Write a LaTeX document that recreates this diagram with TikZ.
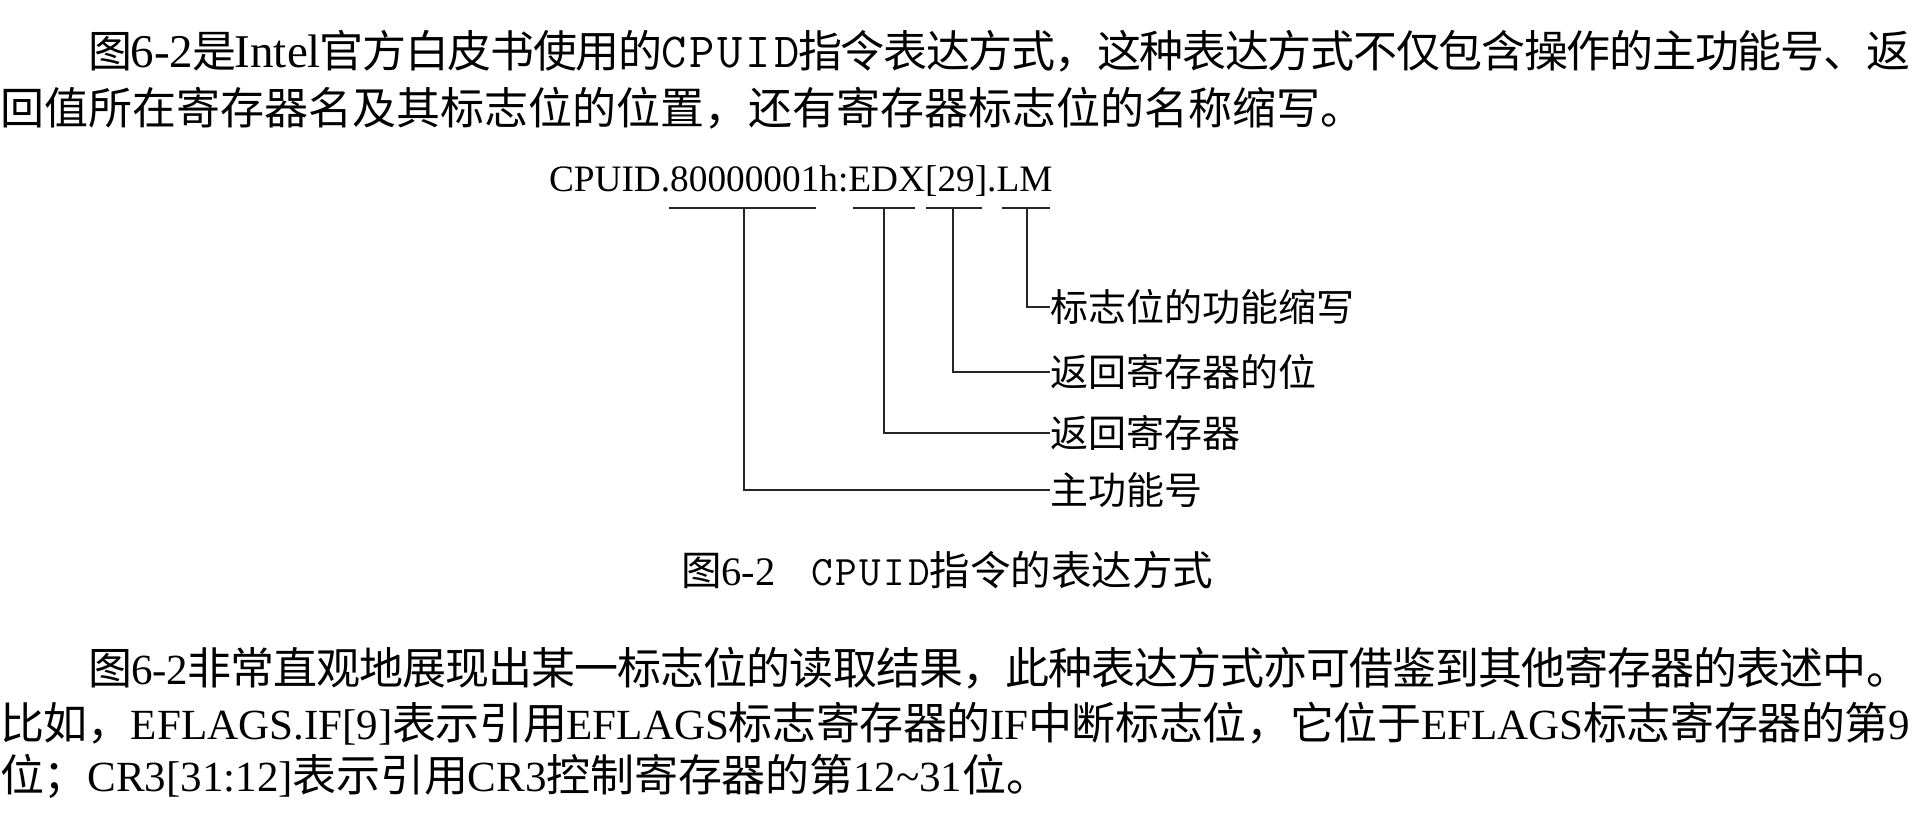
\documentclass[tikz,border=0pt]{standalone}
\usepackage{fontspec}
\setmainfont{Liberation Serif}
\newfontfamily\cjk{Noto Sans CJK SC}
\newfontfamily\latf{Liberation Serif}
\newfontfamily\monf[LetterSpace=6]{Latin Modern Mono}
\newcommand\gl{\hskip 0pt plus 1pt minus 2pt}
\def\spcaux#1{\ifx\relax#1\else#1\gl\expandafter\spcaux\fi}
\newcommand\spc[1]{\spcaux#1\relax}
\newcommand\szz{44}
\newcommand\szl{43}
\newcommand\szm{43}
\newcommand\zhr[1]{{\fontsize{\szz}{\szz}\cjk\spc{#1}}}
\newcommand\ltr[1]{{\fontsize{\szl}{\szl}\latf #1}\gl}
\newcommand\mor[1]{{\fontsize{\szm}{\szm}\monf #1}\gl}
\begin{document}
\begin{tikzpicture}[x=1pt,y=-1pt,
  txt/.style={inner sep=0pt, outer sep=0pt, anchor=base west, text=black},
  lab/.style={inner sep=0pt, outer sep=0pt, anchor=west, text=black,
    font=\fontsize{38}{38}\cjk, text height=33.4pt, text depth=4.6pt},
  conn/.style={draw=black!85, line width=1.8pt}]
\fill[white] (0,0) rectangle (1918,818);
\useasboundingbox (0,0) rectangle (1918,818);

% paragraph 1
\node[txt] (p1a) at (88,68) {\def\szl{47}\def\szm{49}\hbox to 1822pt{\zhr{图}\ltr{6-2}\zhr{是}\ltr{Intel}\zhr{官方白皮书使用的}\mor{CPUID}\zhr{指令表达方式，这种表达方式不仅包含操作的主功能号、返}\unskip}};
\node[txt] (p1b) at (0,125) {\hbox to 1364pt{\zhr{回值所在寄存器名及其标志位的位置，还有寄存器标志位的名称缩写。}\unskip}};

% diagram
\node[txt, font=\fontsize{37.3}{37.3}\latf] (title) at (549,192) {CPUID.80000001h:EDX[29].LM};

\coordinate (a1) at (669,208);  \coordinate (b1) at (816,208);
\coordinate (a2) at (853,208);  \coordinate (b2) at (915,208);
\coordinate (a3) at (926,208);  \coordinate (b3) at (982,208);
\coordinate (a4) at (1002,208); \coordinate (b4) at (1050,208);
\coordinate (m1) at (744,208);
\coordinate (m2) at (884,208);
\coordinate (m3) at (953,208);
\coordinate (m4) at (1027,208);

\node[lab] (l1) at (1050,307) {标志位的功能缩写};
\node[lab] (l2) at (1050,372) {返回寄存器的位};
\node[lab] (l3) at (1050,433) {返回寄存器};
\node[lab] (l4) at (1050,490) {主功能号};

\draw[conn] (a1) -- (b1);
\draw[conn] (a2) -- (b2);
\draw[conn] (a3) -- (b3);
\draw[conn] (a4) -- (b4);
\draw[conn] (m1) |- (l4.west);
\draw[conn] (m2) |- (l3.west);
\draw[conn] (m3) |- (l2.west);
\draw[conn] (m4) |- (l1.west);

% caption
\node[txt] (cap) at (681,585) {\def\szz{40.5}\def\szl{40.5}\def\szm{42}\zhr{图}\ltr{6-2}\hspace{36pt}\mor{CPUID}\zhr{指令的表达方式}\unskip};

% paragraph 2
\node[txt] (p2a) at (88,684) {\hbox to 1822pt{\zhr{图}\ltr{6-2}\zhr{非常直观地展现出某一标志位的读取结果，此种表达方式亦可借鉴到其他寄存器的表述中。}\unskip}};
\node[txt] (p2b) at (0,739) {\hbox to 1910pt{\zhr{比如，}\ltr{EFLAGS.IF[9]}\zhr{表示引用}\ltr{EFLAGS}\zhr{标志寄存器的}\ltr{IF}\zhr{中断标志位，它位于}\ltr{EFLAGS}\zhr{标志寄存器的第}\ltr{9}\unskip}};
\node[txt] (p2c) at (0,791) {\hbox to 1050pt{\zhr{位；}\ltr{CR3[31:12]}\zhr{表示引用}\ltr{CR3}\zhr{控制寄存器的第}\ltr{12\textasciitilde31}\zhr{位。}\unskip}};
\end{tikzpicture}
\end{document}
